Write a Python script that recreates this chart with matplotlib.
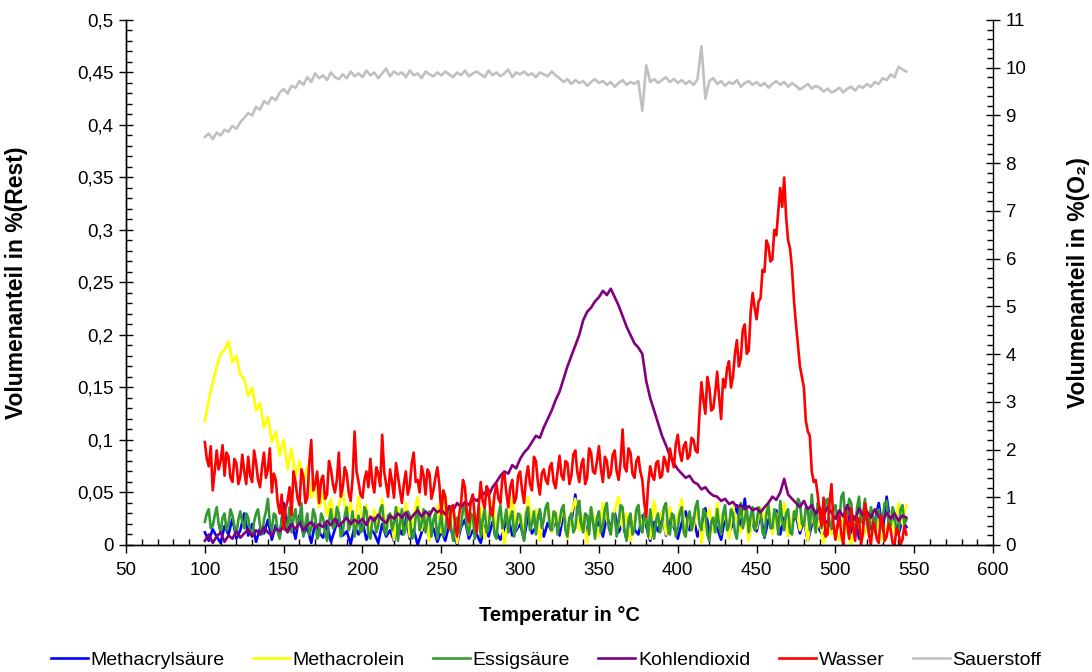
import numpy as np
import matplotlib
matplotlib.use("Agg")
import matplotlib.pyplot as plt
from matplotlib.ticker import MultipleLocator, FuncFormatter
from matplotlib import font_manager

# Temperature axes (°C): coarse grid every 2.5 °C, fine grid every 1.25 °C
temperatur = np.arange(100.0, 545.1, 2.5)
temperatur_fein = np.arange(100.0, 545.1, 1.25)

methacrylsaeure = [
    0.012, 0.004, 0.015, 0.008, 0.002, 0.018, 0.010, 0.025, 0.006, 0.014,
    0.030, 0.009, 0.020, 0.003, 0.016, 0.011, 0.024, 0.005, 0.019, 0.008,
    0.040, 0.013, 0.022, 0.006, 0.028, 0.010, 0.017, 0.002, 0.021, 0.012,
    0.007, 0.019, 0.003, 0.015, 0.026, 0.009, 0.013, 0.001, 0.018, 0.010,
    0.022, 0.005, 0.016, 0.011, 0.002, 0.020, 0.008, 0.014, 0.004, 0.018,
    0.010, 0.027, 0.006, 0.015, 0.000, 0.012, 0.021, 0.007, 0.016, 0.003,
    0.013, 0.004, 0.019, 0.009, 0.001, 0.017, 0.024, 0.006, 0.014, 0.010,
    0.002, 0.018, 0.008, 0.022, 0.012, 0.005, 0.016, 0.027, 0.009, 0.014,
    0.020, 0.006, 0.028, 0.011, 0.017, 0.032, 0.008, 0.021, 0.013, 0.024,
    0.009, 0.030, 0.015, 0.022, 0.048, 0.018, 0.026, 0.010, 0.035, 0.014,
    0.022, 0.008, 0.027, 0.016, 0.031, 0.012, 0.020, 0.006, 0.024, 0.015,
    0.010, 0.028, 0.018, 0.004, 0.022, 0.013, 0.030, 0.009, 0.025, 0.017,
    0.006, 0.021, 0.032, 0.014, 0.026, 0.008, 0.019, 0.035, 0.011, 0.023,
    0.016, 0.005, 0.027, 0.012, 0.020, 0.038, 0.015, 0.044, 0.009, 0.022,
    0.013, 0.030, 0.007, 0.024, 0.018, 0.033, 0.010, 0.026, 0.015, 0.021,
    0.028, 0.011, 0.024, 0.004, 0.019, 0.032, 0.014, 0.008, 0.023, 0.016,
    0.010, 0.025, 0.018, 0.036, 0.012, 0.027, 0.006, 0.021, 0.030, 0.015,
    0.022, 0.040, 0.013, 0.046, 0.019, 0.028, 0.010, 0.024, 0.017,
]

methacrolein = [
    0.118, 0.138, 0.155, 0.170, 0.182, 0.186, 0.194, 0.174, 0.180, 0.162,
    0.158, 0.142, 0.150, 0.128, 0.135, 0.112, 0.122, 0.098, 0.108, 0.085,
    0.100, 0.072, 0.092, 0.064, 0.080, 0.058, 0.075, 0.045, 0.058, 0.036,
    0.050, 0.028, 0.044, 0.020, 0.038, 0.052, 0.025, 0.040, 0.015, 0.046,
    0.022, 0.038, 0.010, 0.034, 0.018, 0.044, 0.012, 0.030, 0.005, 0.036,
    0.016, 0.040, 0.008, 0.028, 0.046, 0.014, 0.032, 0.004, 0.024, 0.038,
    0.012, 0.048, 0.020, 0.034, 0.002, 0.026, 0.040, 0.010, 0.030, 0.018,
    0.036, 0.006, 0.028, 0.042, 0.014, 0.032, 0.000, 0.024, 0.044, 0.016,
    0.030, 0.010, 0.046, 0.020, 0.034, 0.004, 0.026, 0.040, 0.012, 0.032,
    0.018, 0.038, 0.006, 0.030, 0.044, 0.014, 0.028, 0.002, 0.036, 0.022,
    0.008, 0.040, 0.024, 0.012, 0.034, 0.046, 0.016, 0.030, 0.004, 0.026,
    0.038, 0.014, 0.028, 0.006, 0.042, 0.020, 0.032, 0.010, 0.036, 0.018,
    0.026, 0.044, 0.008, 0.030, 0.016, 0.038, 0.002, 0.024, 0.034, 0.012,
    0.040, 0.018, 0.030, 0.006, 0.036, 0.022, 0.012, 0.034, 0.004, 0.028,
    0.016, 0.036, 0.024, 0.042, 0.010, 0.030, 0.020, 0.040, 0.008, 0.026,
    0.034, 0.014, 0.028, 0.004, 0.030, 0.012, 0.024, 0.002, 0.020, 0.010,
    0.018, 0.004, 0.026, 0.012, 0.000, 0.022, 0.030, 0.008, 0.016, 0.034,
    0.010, 0.024, 0.004, 0.018, 0.030, 0.012, 0.040, 0.020, 0.038,
]

# Essigsäure on the fine grid
essigsaeure = [
    0.022, 0.030, 0.034, 0.016, 0.018, 0.028, 0.036, 0.020, 0.012, 0.026,
    0.030, 0.014, 0.020, 0.034, 0.028, 0.018, 0.010, 0.024, 0.032, 0.022,
    0.016, 0.030, 0.026, 0.012, 0.008, 0.022, 0.030, 0.034, 0.018, 0.010,
    0.024, 0.032, 0.044, 0.020, 0.014, 0.030, 0.028, 0.012, 0.006, 0.024,
    0.032, 0.014, 0.020, 0.036, 0.012, 0.026, 0.034, 0.016, 0.024, 0.040,
    0.008, 0.020, 0.030, 0.010, 0.016, 0.034, 0.028, 0.006, 0.010, 0.030,
    0.026, 0.012, 0.004, 0.022, 0.034, 0.016, 0.018, 0.036, 0.030, 0.008,
    0.012, 0.028, 0.036, 0.014, 0.020, 0.032, 0.008, 0.018, 0.028, 0.012,
    0.014, 0.036, 0.032, 0.010, 0.006, 0.024, 0.026, 0.012, 0.018, 0.034,
    0.038, 0.016, 0.010, 0.028, 0.030, 0.014, 0.022, 0.036, 0.004, 0.020,
    0.034, 0.010, 0.016, 0.032, 0.028, 0.006, 0.008, 0.026, 0.036, 0.014,
    0.020, 0.034, 0.012, 0.024, 0.032, 0.008, 0.024, 0.030, 0.006, 0.018,
    0.030, 0.008, 0.014, 0.032, 0.036, 0.016, 0.004, 0.022, 0.026, 0.012,
    0.018, 0.034, 0.040, 0.016, 0.010, 0.030, 0.028, 0.006, 0.020, 0.036,
    0.008, 0.024, 0.034, 0.012, 0.016, 0.036, 0.030, 0.010, 0.006, 0.028,
    0.038, 0.016, 0.022, 0.034, 0.012, 0.026, 0.032, 0.008, 0.018, 0.030,
    0.028, 0.012, 0.004, 0.030, 0.036, 0.014, 0.020, 0.032, 0.010, 0.026,
    0.034, 0.016, 0.024, 0.036, 0.040, 0.018, 0.014, 0.032, 0.030, 0.010,
    0.022, 0.034, 0.038, 0.014, 0.008, 0.026, 0.030, 0.012, 0.016, 0.036,
    0.042, 0.020, 0.012, 0.030, 0.028, 0.010, 0.036, 0.022, 0.006, 0.026,
    0.032, 0.012, 0.018, 0.034, 0.040, 0.016, 0.010, 0.030, 0.028, 0.008,
    0.022, 0.038, 0.036, 0.014, 0.004, 0.024, 0.030, 0.010, 0.014, 0.034,
    0.038, 0.016, 0.012, 0.030, 0.026, 0.008, 0.034, 0.018, 0.006, 0.024,
    0.030, 0.012, 0.020, 0.036, 0.040, 0.016, 0.010, 0.030, 0.028, 0.008,
    0.016, 0.030, 0.036, 0.012, 0.008, 0.026, 0.032, 0.014, 0.022, 0.036,
    0.042, 0.020, 0.014, 0.034, 0.030, 0.010, 0.004, 0.022, 0.026, 0.012,
    0.034, 0.018, 0.010, 0.030, 0.038, 0.014, 0.018, 0.034, 0.030, 0.012,
    0.006, 0.028, 0.040, 0.016, 0.024, 0.036, 0.012, 0.028, 0.036, 0.014,
    0.020, 0.036, 0.032, 0.012, 0.008, 0.030, 0.038, 0.016, 0.016, 0.034,
    0.028, 0.010, 0.042, 0.024, 0.014, 0.030, 0.034, 0.012, 0.010, 0.032,
    0.026, 0.044, 0.040, 0.020, 0.018, 0.036, 0.032, 0.014, 0.048, 0.026,
    0.012, 0.040, 0.036, 0.016, 0.024, 0.042, 0.044, 0.020, 0.016, 0.034,
    0.038, 0.024, 0.022, 0.046, 0.050, 0.026, 0.028, 0.044, 0.040, 0.018,
    0.014, 0.036, 0.046, 0.022, 0.030, 0.044, 0.020, 0.012, 0.036, 0.028,
    0.012, 0.030, 0.034, 0.016, 0.026, 0.040, 0.042, 0.020, 0.018, 0.036,
    0.030, 0.012, 0.010, 0.034, 0.038, 0.020, 0.024,
]

kohlendioxid = [
    0.004, 0.010, 0.002, 0.008, 0.012, 0.003, 0.009, 0.006, 0.013, 0.007,
    0.011, 0.015, 0.008, 0.014, 0.010, 0.017, 0.012, 0.009, 0.016, 0.013,
    0.018, 0.012, 0.020, 0.015, 0.021, 0.014, 0.019, 0.022, 0.016, 0.020,
    0.017, 0.023, 0.019, 0.025, 0.018, 0.022, 0.026, 0.020, 0.024, 0.021,
    0.025, 0.019, 0.027, 0.023, 0.029, 0.024, 0.021, 0.028, 0.025, 0.030,
    0.026, 0.031, 0.024, 0.029, 0.033, 0.027, 0.032, 0.028, 0.035, 0.031,
    0.034, 0.029, 0.037, 0.033, 0.040, 0.036, 0.041, 0.038, 0.045, 0.042,
    0.046, 0.050, 0.047, 0.055, 0.060, 0.066, 0.070, 0.068, 0.076, 0.073,
    0.082, 0.088, 0.092, 0.098, 0.104, 0.102, 0.112, 0.120, 0.128, 0.138,
    0.146, 0.158, 0.170, 0.180, 0.190, 0.200, 0.214, 0.222, 0.226, 0.232,
    0.236, 0.242, 0.238, 0.244, 0.236, 0.228, 0.218, 0.208, 0.200, 0.192,
    0.188, 0.182, 0.156, 0.140, 0.128, 0.116, 0.104, 0.095, 0.085, 0.078,
    0.072, 0.068, 0.064, 0.066, 0.060, 0.058, 0.053, 0.055, 0.050, 0.047,
    0.046, 0.042, 0.044, 0.039, 0.041, 0.036, 0.038, 0.034, 0.037, 0.033,
    0.035, 0.031, 0.036, 0.040, 0.046, 0.043, 0.050, 0.063, 0.048, 0.044,
    0.040, 0.036, 0.042, 0.034, 0.038, 0.030, 0.035, 0.028, 0.036, 0.031,
    0.025, 0.033, 0.027, 0.038, 0.030, 0.024, 0.035, 0.028, 0.032, 0.026,
    0.034, 0.027, 0.022, 0.031, 0.025, 0.030, 0.023, 0.028, 0.026,
]

# Wasser on the fine grid
wasser = [
    0.098, 0.082, 0.075, 0.094, 0.052, 0.070, 0.090, 0.072, 0.080, 0.095,
    0.066, 0.088, 0.084, 0.064, 0.060, 0.082, 0.078, 0.058, 0.065, 0.086,
    0.070, 0.058, 0.084, 0.066, 0.060, 0.090, 0.078, 0.062, 0.055, 0.074,
    0.088, 0.064, 0.072, 0.092, 0.050, 0.068, 0.062, 0.040, 0.030, 0.048,
    0.015, 0.035, 0.042, 0.055, 0.028, 0.070, 0.060, 0.045, 0.038, 0.072,
    0.065, 0.040, 0.045, 0.078, 0.100, 0.052, 0.058, 0.070, 0.040, 0.062,
    0.066, 0.044, 0.048, 0.080, 0.072, 0.058, 0.050, 0.062, 0.088, 0.046,
    0.055, 0.074, 0.068, 0.050, 0.042, 0.064, 0.108, 0.070, 0.060, 0.048,
    0.045, 0.062, 0.070, 0.055, 0.082, 0.060, 0.050, 0.074, 0.068, 0.056,
    0.105, 0.070, 0.058, 0.046, 0.072, 0.060, 0.045, 0.078, 0.066, 0.052,
    0.040, 0.058, 0.070, 0.048, 0.056, 0.078, 0.088, 0.060, 0.062, 0.050,
    0.075, 0.066, 0.048, 0.072, 0.068, 0.044, 0.052, 0.064, 0.074, 0.058,
    0.030, 0.052, 0.046, 0.025, 0.015, 0.036, 0.038, 0.020, 0.008, 0.028,
    0.040, 0.062, 0.055, 0.030, 0.022, 0.042, 0.048, 0.026, 0.012, 0.038,
    0.060, 0.042, 0.035, 0.056, 0.052, 0.030, 0.028, 0.048, 0.058, 0.044,
    0.040, 0.064, 0.068, 0.050, 0.036, 0.055, 0.062, 0.040, 0.045, 0.066,
    0.070, 0.052, 0.040, 0.064, 0.075, 0.058, 0.052, 0.084, 0.080, 0.060,
    0.048, 0.068, 0.072, 0.062, 0.058, 0.074, 0.078, 0.060, 0.054, 0.070,
    0.085, 0.066, 0.062, 0.080, 0.078, 0.058, 0.066, 0.086, 0.090, 0.070,
    0.060, 0.076, 0.082, 0.058, 0.064, 0.092, 0.088, 0.070, 0.068, 0.080,
    0.094, 0.072, 0.060, 0.084, 0.080, 0.064, 0.068, 0.086, 0.090, 0.070,
    0.062, 0.080, 0.110, 0.074, 0.070, 0.092, 0.088, 0.068, 0.064, 0.080,
    0.084, 0.070, 0.062, 0.040, 0.027, 0.058, 0.075, 0.066, 0.062, 0.078,
    0.080, 0.064, 0.066, 0.084, 0.078, 0.070, 0.092, 0.082, 0.074, 0.096,
    0.105, 0.088, 0.080, 0.094, 0.098, 0.082, 0.085, 0.102, 0.100, 0.090,
    0.088, 0.125, 0.155, 0.138, 0.125, 0.160, 0.150, 0.128, 0.130, 0.145,
    0.165, 0.140, 0.120, 0.158, 0.150, 0.168, 0.175, 0.150, 0.160, 0.182,
    0.195, 0.170, 0.178, 0.205, 0.210, 0.182, 0.185, 0.222, 0.240, 0.226,
    0.215, 0.232, 0.235, 0.262, 0.260, 0.290, 0.285, 0.270, 0.272, 0.300,
    0.295, 0.318, 0.340, 0.322, 0.350, 0.312, 0.290, 0.282, 0.262, 0.232,
    0.210, 0.190, 0.170, 0.160, 0.150, 0.118, 0.108, 0.104, 0.070, 0.060,
    0.062, 0.048, 0.030, 0.018, 0.045, 0.008, 0.010, 0.040, 0.058, 0.020,
    0.005, 0.018, 0.028, 0.010, 0.000, 0.032, 0.020, 0.006, 0.035, 0.016,
    0.004, 0.026, 0.025, 0.000, 0.012, 0.040, 0.030, 0.010, 0.000, 0.022,
    0.018, 0.006, 0.002, 0.028, 0.022, 0.004, 0.008, 0.020, 0.015, 0.002,
    0.000, 0.016, 0.012, 0.000, 0.005, 0.018, 0.010,
]

# Oxygen, plotted against the right-hand axis (coarse grid)
sauerstoff = [
    8.55, 8.62, 8.50, 8.64, 8.58, 8.70, 8.66, 8.78, 8.72, 8.86,
    8.95, 9.05, 9.00, 9.18, 9.12, 9.30, 9.24, 9.38, 9.32, 9.48,
    9.55, 9.46, 9.62, 9.58, 9.72, 9.64, 9.80, 9.70, 9.88, 9.78,
    9.84, 9.74, 9.90, 9.80, 9.76, 9.86, 9.78, 9.92, 9.82, 9.88,
    9.80, 9.94, 9.84, 9.90, 9.78, 9.88, 9.98, 9.82, 9.92, 9.86,
    9.90, 9.80, 9.94, 9.84, 9.88, 9.78, 9.92, 9.86, 9.82, 9.90,
    9.84, 9.92, 9.86, 9.80, 9.90, 9.84, 9.94, 9.82, 9.88, 9.92,
    9.86, 9.80, 9.94, 9.84, 9.90, 9.82, 9.88, 9.96, 9.80, 9.90,
    9.86, 9.92, 9.84, 9.88, 9.80, 9.90, 9.86, 9.82, 9.92, 9.84,
    9.78, 9.70, 9.76, 9.66, 9.74, 9.68, 9.72, 9.62, 9.70, 9.76,
    9.68, 9.72, 9.64, 9.70, 9.60, 9.68, 9.74, 9.64, 9.70, 9.66,
    9.72, 9.10, 10.05, 9.70, 9.76, 9.68, 9.74, 9.80, 9.70, 9.76,
    9.68, 9.74, 9.66, 9.72, 9.64, 9.76, 10.45, 9.35, 9.72, 9.78,
    9.66, 9.72, 9.62, 9.70, 9.66, 9.74, 9.60, 9.68, 9.72, 9.64,
    9.70, 9.62, 9.68, 9.58, 9.66, 9.72, 9.64, 9.70, 9.60, 9.68,
    9.62, 9.54, 9.60, 9.66, 9.56, 9.62, 9.58, 9.50, 9.56, 9.48,
    9.52, 9.58, 9.48, 9.56, 9.60, 9.52, 9.62, 9.58, 9.66, 9.60,
    9.70, 9.66, 9.78, 9.74, 9.86, 9.80, 10.02, 9.96, 9.92,
]

serien_links = [
    ("Methacrylsäure", temperatur, methacrylsaeure, "#0000FF"),
    ("Methacrolein", temperatur, methacrolein, "#FFFF00"),
    ("Essigsäure", temperatur_fein, essigsaeure, "#339933"),
    ("Kohlendioxid", temperatur, kohlendioxid, "#800080"),
    ("Wasser", temperatur_fein, wasser, "#FF0000"),
]
sauerstoff_farbe = "#C0C0C0"

names = {f.name for f in font_manager.fontManager.ttflist}
base_font = "Liberation Sans" if "Liberation Sans" in names else "DejaVu Sans"
plt.rcParams["font.family"] = [base_font, "DejaVu Sans"]

fig = plt.figure(figsize=(10.92, 6.72), dpi=100)
ax = fig.add_axes([0.1154, 0.189, 0.7940, 0.7813])
ax2 = ax.twinx()

handles = []
for name, t, vals, col in serien_links:
    h, = ax.plot(t, vals, color=col, lw=1.9, label=name)
    handles.append(h)
h, = ax2.plot(temperatur, sauerstoff, color=sauerstoff_farbe, lw=1.9, label="Sauerstoff")
handles.append(h)

ax.set_xlim(50, 600)
ax.set_ylim(0, 0.5)
ax2.set_ylim(0, 11)

comma = FuncFormatter(lambda v, p: f"{v:g}".replace(".", ","))
ax.xaxis.set_major_locator(MultipleLocator(50))
ax.xaxis.set_minor_locator(MultipleLocator(10))
ax.yaxis.set_major_locator(MultipleLocator(0.05))
ax.yaxis.set_minor_locator(MultipleLocator(0.01))
ax.yaxis.set_major_formatter(comma)
ax2.yaxis.set_major_locator(MultipleLocator(1))
ax2.yaxis.set_minor_locator(MultipleLocator(0.2))

for a in (ax, ax2):
    a.spines["top"].set_visible(False)
    for s in a.spines.values():
        s.set_linewidth(1.0)
ax.spines["right"].set_visible(False)

ax.tick_params(axis="y", which="major", direction="inout", length=10, width=1, labelsize=13.5, pad=4)
ax.tick_params(axis="y", which="minor", direction="in", length=4, width=1)
ax.tick_params(axis="x", which="major", direction="out", length=6, width=1, labelsize=13.5, pad=6)
ax.tick_params(axis="x", which="minor", direction="in", length=4, width=1)
ax2.tick_params(axis="y", which="major", direction="inout", length=10, width=1, labelsize=13.5, pad=4)
ax2.tick_params(axis="y", which="minor", direction="in", length=4, width=1)

ax.set_xlabel("Temperatur in °C", fontsize=14.5, fontweight="bold")
ax.xaxis.set_label_coords(0.5, -0.117)
ax.set_ylabel("Volumenanteil in %(Rest)", fontsize=16.5, fontweight="bold")
ax.yaxis.set_label_coords(-0.113, 0.5)
ax2.set_ylabel("Volumenanteil in %(O₂)", fontsize=16.5, fontweight="bold",
               family=[base_font, "DejaVu Sans"])
ax2.yaxis.set_label_coords(1.085, 0.5)

fig.legend(handles=handles, labels=[h.get_label() for h in handles],
           loc="center", bbox_to_anchor=(0.5, 0.018), ncol=6, frameon=False,
           prop={"family": base_font, "size": 14},
           handlelength=1.9, handletextpad=0.15, columnspacing=1.45,
           borderaxespad=0)

fig.savefig("out.png", dpi=100)
